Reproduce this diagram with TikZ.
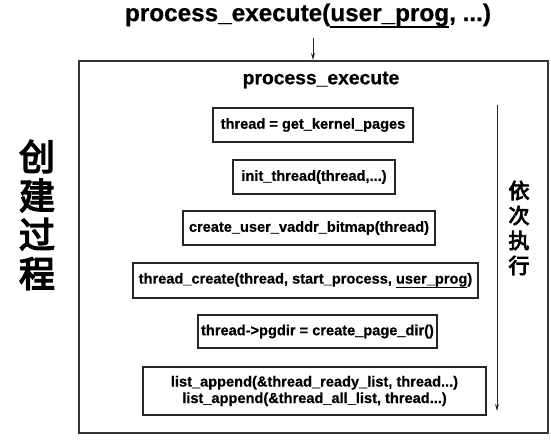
\documentclass[tikz,border=0pt]{standalone}
\usepackage{fontspec}
\setmainfont{Liberation Sans}[BoldFeatures={FakeBold=0.6}]
\newfontfamily\cjk{Noto Sans CJK SC}[AutoFakeBold=4]
\usetikzlibrary{arrows.meta}
% heavy underline set below the descenders
\newcommand\thickul[1]{{\setbox0\hbox{#1}\rlap{\raisebox{-0.3em}{\rule{\wd0}{0.1em}}}\box0}}
\tikzset{
  callbox/.style={draw=black!85, line width=1.1pt, inner sep=0pt, align=center,
    font=\fontsize{14.6}{16.5}\selectfont\bfseries},
  frame/.style={draw=black!80, line width=1.3pt},
  flow/.style={draw=black!85, line width=1pt, -{Stealth[length=7pt,width=4pt]}},
}
\begin{document}
\begin{tikzpicture}[x=1pt,y=-1pt]
\useasboundingbox[fill=white] (0,0) rectangle (551,439);
% caller line
\node[font=\fontsize{24.3}{28}\selectfont\bfseries] (title) at (308,16)
  {process\_execute(\thickul{user\_prog}, ...)};
% outer frame
\coordinate (ftl) at (79,61);
\coordinate (fbr) at (548,433);
\draw[frame] (ftl) rectangle (fbr);
\coordinate (entry) at (313,60);
\draw[flow] (313,38) -- (entry);
\node[font=\fontsize{19.3}{22}\selectfont\bfseries] (head) at (321,80) {process\_execute};
% steps
\node[callbox, minimum width=200, minimum height=34] (s1) at (313,125) {thread = get\_kernel\_pages};
\node[callbox, minimum width=162, minimum height=34] (s2) at (314,177) {init\_thread(thread,...)};
\node[callbox, minimum width=252, minimum height=34] (s3) at (309,228) {create\_user\_vaddr\_bitmap(thread)};
\node[callbox, minimum width=345, minimum height=35] (s4) at (305.5,280.5) {thread\_create(thread, start\_process, \thickul{user\_prog})};
\node[callbox, minimum width=239, minimum height=33] (s5) at (317.5,331.5) {thread->pgdir = create\_page\_dir()};
\node[callbox, minimum width=343, minimum height=48] (s6) at (314.5,391)
  {list\_append(\&thread\_ready\_list, thread...)\\list\_append(\&thread\_all\_list, thread...)};
% order of execution
\coordinate (ordtop) at (497,105);
\coordinate (ordend) at (497,411);
\draw[flow] (ordtop) -- (ordend);
\node[font=\fontsize{21}{25}\selectfont\cjk\bfseries, align=center] (ordlbl) at (519,228) {依\\次\\执\\行};
% side caption
\node[font=\fontsize{36}{39}\selectfont\cjk\bfseries, align=center] (side) at (37,215) {创\\建\\过\\程};
\end{tikzpicture}
\end{document}
